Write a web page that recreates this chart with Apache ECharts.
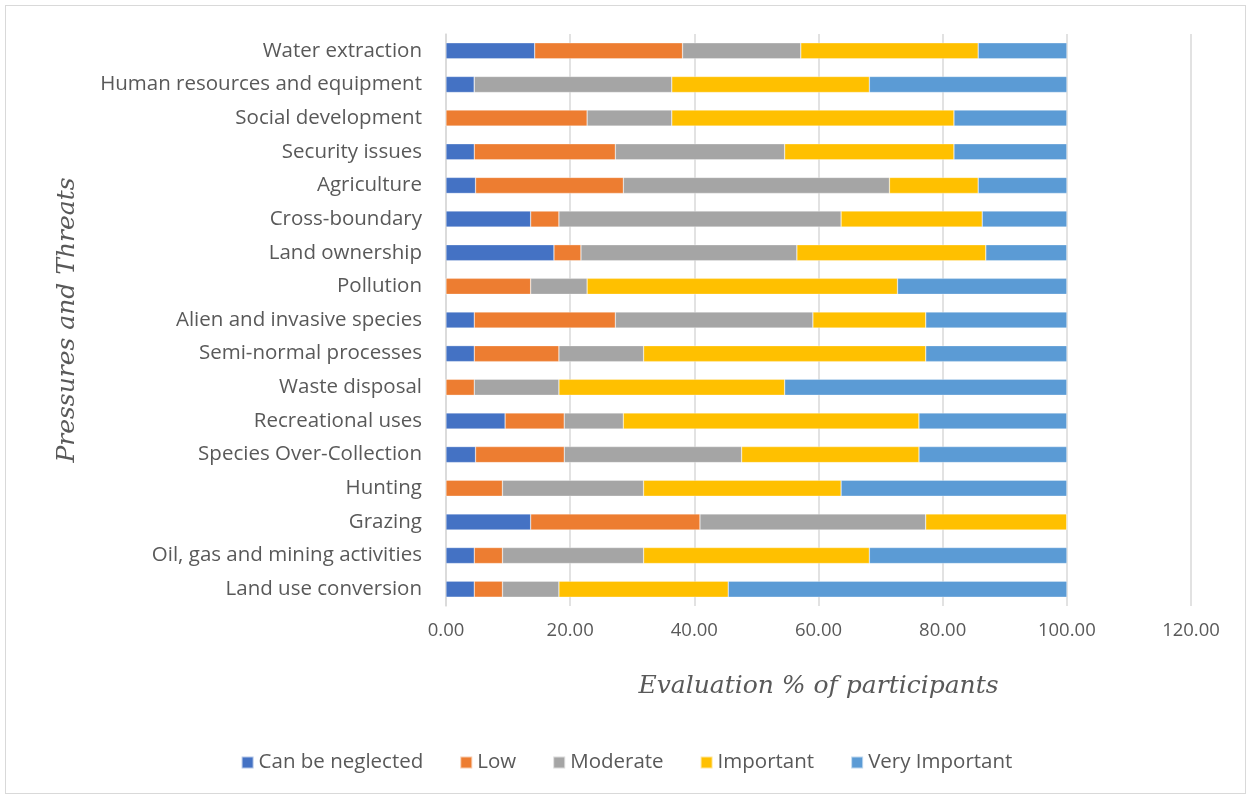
<!DOCTYPE html>
<html>
<head>
<meta charset="utf-8">
<script src="https://cdn.jsdelivr.net/npm/echarts@6/dist/echarts.min.js"></script>
<style>
  html, body { margin: 0; padding: 0; background: #fff; }
  #frame { position: absolute; left: 5px; top: 5px; width: 1241px; height: 789px; border: 1px solid #d9d9d9; box-sizing: border-box; }
  #chart { width: 1253px; height: 799px; }
</style>
</head>
<body>
<div id="frame"></div>
<div id="chart"></div>
<script>
// bottom to top, as the axis draws them
const categories = [
  'Land use conversion', 'Oil, gas and mining activities', 'Grazing', 'Hunting',
  'Species Over-Collection', 'Recreational uses', 'Waste disposal', 'Semi-normal processes',
  'Alien and invasive species', 'Pollution', 'Land ownership', 'Cross-boundary',
  'Agriculture', 'Security issues', 'Social development', 'Human resources and equipment',
  'Water extraction'
]

const neglected = [4.55, 4.55, 13.64, 0, 4.76, 9.52, 0, 4.55, 4.55, 0, 17.39, 13.64, 4.76, 4.55, 0, 4.55, 14.29]
const low       = [4.55, 4.55, 27.27, 9.09, 14.29, 9.52, 4.55, 13.64, 22.73, 13.64, 4.35, 4.55, 23.81, 22.73, 22.73, 0, 23.81]
const moderate  = [9.09, 22.73, 36.36, 22.73, 28.57, 9.52, 13.64, 13.64, 31.82, 9.09, 34.78, 45.45, 42.86, 27.27, 13.64, 31.82, 19.05]
const important = [27.27, 36.36, 22.73, 31.82, 28.57, 47.62, 36.36, 45.45, 18.18, 50.0, 30.43, 22.73, 14.29, 27.27, 45.45, 31.82, 28.57]
const veryImp   = [54.55, 31.82, 0, 36.36, 23.81, 23.81, 45.45, 22.73, 22.73, 27.27, 13.04, 13.64, 14.29, 18.18, 18.18, 31.82, 14.29]

const seriesNames = ['Can be neglected', 'Low', 'Moderate', 'Important', 'Very Important']
const seriesData = [neglected, low, moderate, important, veryImp]
const colors = ['#4472C4', '#ED7D31', '#A5A5A5', '#FFC000', '#5B9BD5']

const textColor = '#595959'
const baseFont = '"Open Sans", "Liberation Sans", sans-serif'
const scriptFont = '"DejaVu Serif", serif'

const chart = echarts.init(document.getElementById('chart'), null, { renderer: 'canvas' })

chart.setOption({
  backgroundColor: 'transparent',
  animation: false,
  color: colors,
  grid: { left: 446, right: 62, top: 34, bottom: 193 },
  legend: {
    bottom: 21,
    left: 'center',
    itemWidth: 12,
    itemHeight: 12,
    itemGap: 36,
    icon: 'rect',
    textStyle: { color: textColor, fontSize: 20.5, fontFamily: baseFont },
    data: seriesNames
  },
  xAxis: {
    type: 'value',
    min: 0,
    max: 120,
    interval: 20,
    name: 'Evaluation % of participants',
    nameLocation: 'middle',
    nameGap: 68,
    nameTextStyle: { color: textColor, fontSize: 25, fontStyle: 'italic', fontFamily: scriptFont },
    axisLine: { show: false },
    axisTick: { show: false },
    axisLabel: {
      color: textColor, fontSize: 18.5, fontFamily: baseFont, margin: 15,
      formatter: v => v.toFixed(2)
    },
    splitLine: { show: true, lineStyle: { color: '#d9d9d9', width: 1.5 } }
  },
  yAxis: {
    type: 'category',
    data: categories,
    name: 'Pressures and Threats',
    nameLocation: 'middle',
    nameGap: 366,
    nameRotate: 90,
    nameTextStyle: { color: textColor, fontSize: 25, fontStyle: 'italic', fontFamily: scriptFont },
    axisLine: { show: true, lineStyle: { color: '#d9d9d9', width: 1.5 } },
    axisTick: { show: false },
    axisLabel: { color: textColor, fontSize: 20.5, fontFamily: baseFont, margin: 24 }
  },
  series: seriesNames.map((name, i) => ({
    name,
    type: 'bar',
    stack: 'total',
    barWidth: 16,
    data: seriesData[i],
    itemStyle: { color: colors[i], borderColor: 'rgba(255,255,255,0.6)', borderWidth: 0.5 }
  }))
})
</script>
</body>
</html>
